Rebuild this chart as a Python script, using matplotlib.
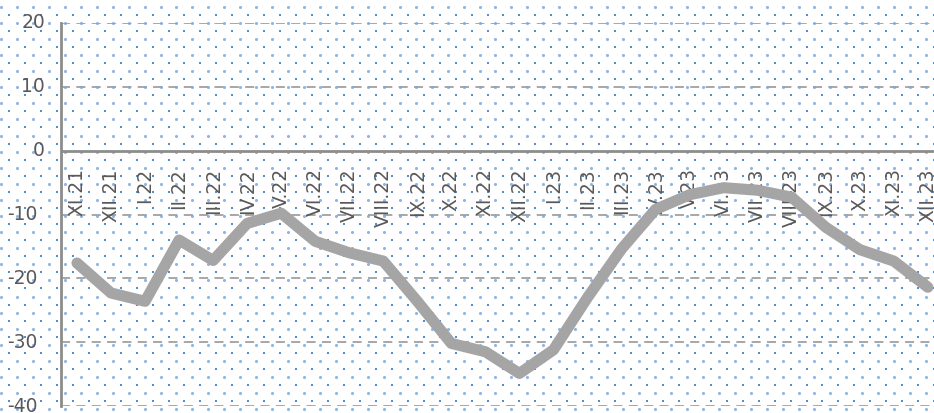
import numpy as np
import matplotlib.pyplot as plt
from matplotlib import transforms

# Data
months = ['XI.21', 'XII.21', 'I.22', 'II.22', 'III.22', 'IV.22', 'V.22', 'VI.22',
          'VII.22', 'VIII.22', 'IX.22', 'X.22', 'XI.22', 'XII.22', 'I.23', 'II.23',
          'III.23', 'IV.23', 'V.23', 'VI.23', 'VII.23', 'VIII.23', 'IX.23', 'X.23',
          'XI.23', 'XII.23']
values = [-17.6, -22.3, -23.6, -14.0, -17.2, -11.4, -9.8, -14.2,
          -16.0, -17.3, -23.6, -30.2, -31.5, -34.9, -31.2, -23.0,
          -15.4, -9.2, -6.9, -5.8, -6.2, -7.3, -12.0, -15.5,
          -17.3, -21.4]
yticks = [-40, -30, -20, -10, 0, 10, 20]

W, H = 934, 413
fig = plt.figure(figsize=(W / 100, H / 100), dpi=100)
fig.patch.set_facecolor('white')

# dotted background pattern over the whole figure
bg = fig.add_axes([0, 0, 1, 1], zorder=0)
bg.set_xlim(0, W)
bg.set_ylim(H, 0)
bg.axis('off')
rows = np.arange(6.7, H + 8, 8.05)
for k, yy in enumerate(rows):
    if k % 2 == 0:
        xx = np.arange(1, W + 16, 15.95)
        bg.scatter(xx, np.full_like(xx, yy), s=5, marker='o', color='#8fb5e6',
                   linewidths=0)
    else:
        xx = np.arange(9, W + 16, 15.95)
        bg.scatter(xx, np.full_like(xx, yy), s=3.5, marker='s', color='#5a8ad0',
                   linewidths=0)

ax = fig.add_axes([61 / W, 7 / H, 1 - 61 / W, 383 / H], zorder=1)
ax.patch.set_alpha(0)

x = np.arange(len(months))
ax.plot(x, values, color='#a5a5a5', lw=8, solid_joinstyle='round',
        solid_capstyle='round', zorder=3)

ax.set_xlim(-0.47, 25.18)
ax.set_ylim(-40, 20)

# gridlines
for t in yticks:
    if t != 0:
        ax.axhline(t, color='#a0a0a0', lw=1.3, ls=(0, (5, 3.5)), zorder=1)

for s in ['top', 'right', 'bottom']:
    ax.spines[s].set_visible(False)
ax.spines['left'].set_color('#8c8c8c')
ax.spines['left'].set_linewidth(2)
ax.axhline(0, color='#8c8c8c', lw=2, zorder=2)

ax.set_xticks([])
ax.set_yticks([])

# y labels (negatives sit a bit further left, as in the original)
ytrans = transforms.blended_transform_factory(ax.transAxes, ax.transData)
for t in yticks:
    dx = -16 if t >= 0 else -23
    tr = transforms.offset_copy(ytrans, fig=fig, x=dx, y=0, units='dots')
    ax.text(0, t, str(t), transform=tr, ha='right', va='center', fontsize=13.5,
            color='#595959', family='DejaVu Sans', clip_on=False)

# month labels hanging under the zero line
for i, m in enumerate(months):
    ax.text(i, -2.75, m, rotation=90, ha='center', va='top', fontsize=13.5,
            color='#595959', family='DejaVu Sans', zorder=2)

fig.savefig('out.png', dpi=100, facecolor='white')
